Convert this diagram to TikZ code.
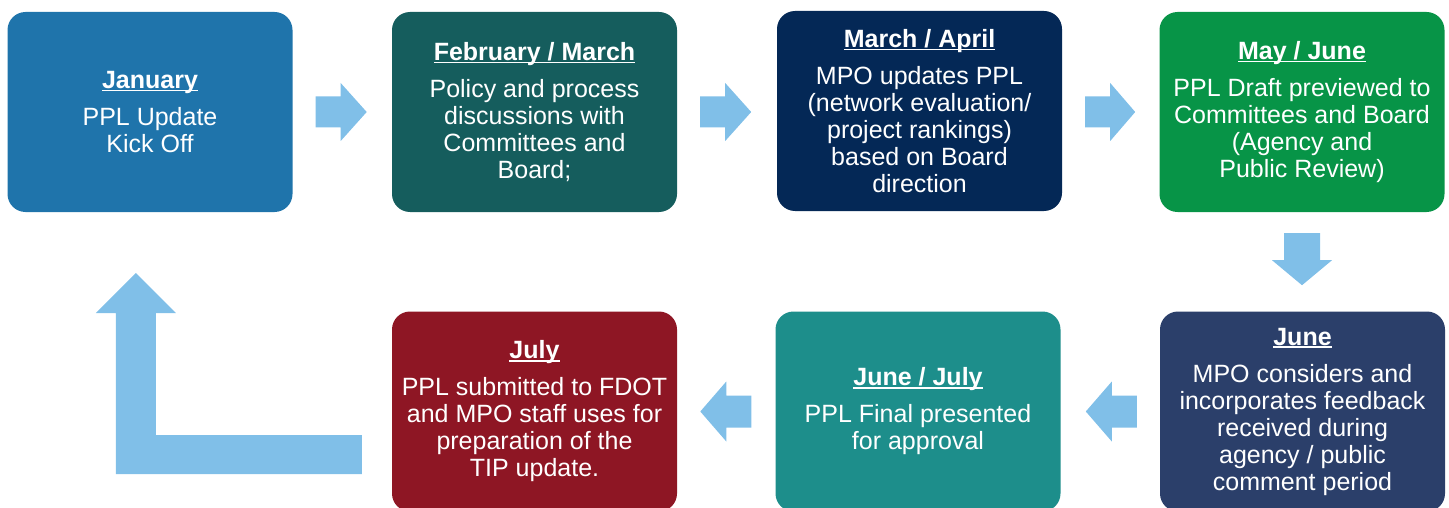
\documentclass[tikz,border=0pt]{standalone}
\usepackage{fontspec}
\setmainfont{Liberation Sans}
\usetikzlibrary{calc}
\definecolor{cJan}{RGB}{31,116,171}
\definecolor{cFeb}{RGB}{21,93,93}
\definecolor{cMar}{RGB}{4,40,86}
\definecolor{cMay}{RGB}{7,148,71}
\definecolor{cJun}{RGB}{43,63,106}
\definecolor{cJJ}{RGB}{29,142,139}
\definecolor{cJul}{RGB}{142,22,36}
\definecolor{arr}{RGB}{128,191,232}
\newcommand\mytitle[1]{\setbox0\hbox{\bfseries #1}\rlap{\rule[-2.6pt]{\wd0}{1.2pt}}\box0}
\begin{document}
\begin{tikzpicture}[x=1pt,y=-1pt,
  stage/.style={rounded corners=18pt, minimum width=285pt, minimum height=200pt,
    inner sep=0pt, align=center, text=white, font=\fontsize{25}{27}\selectfont},
  blockarrow/.style={fill=arr}]
\useasboundingbox (0,0) rectangle (1449,508);
\clip (0,0) rectangle (1449,508);
\node[stage, fill=cJan] (jan) at (150,112)
  {\mytitle{January}\\[10pt]PPL Update\\Kick Off};
\node[stage, fill=cFeb] (feb) at (534.5,112)
  {\mytitle{February / March}\\[10pt]Policy and process\\discussions with\\Committees and\\Board;};
\node[stage, fill=cMar] (mar) at (919.5,111)
  {\mytitle{March / April}\\[10pt]MPO updates PPL\\(network evaluation/\\project rankings)\\based on Board\\direction};
\node[stage, fill=cMay] (may) at (1302,112)
  {\mytitle{May / June}\\[10pt]PPL Draft previewed to\\Committees and Board\\(Agency and\\Public Review)};
\node[stage, fill=cJun] (jun) at (1302.5,411.5)
  {\mytitle{June}\\[10pt]MPO considers and\\incorporates feedback\\received during\\agency / public\\comment period};
\node[stage, fill=cJJ] (jj) at (918,411.5)
  {\mytitle{June / July}\\[10pt]PPL Final presented\\for approval};
\node[stage, fill=cJul] (jul) at (534.5,411.5)
  {\mytitle{July}\\[10pt]PPL submitted to FDOT\\and MPO staff uses for\\preparation of the\\TIP update.};
% right arrows
\fill[blockarrow] ($(jan.east)+(23,-15.5)$) -- ++(25,0) -- ++(0,-13.5) -- ++(26,29) -- ++(-26,29) -- ++(0,-13.5) -- ++(-25,0) -- cycle;
\fill[blockarrow] ($(feb.east)+(23,-15.5)$) -- ++(25,0) -- ++(0,-13.5) -- ++(26,29) -- ++(-26,29) -- ++(0,-13.5) -- ++(-25,0) -- cycle;
\fill[blockarrow] ($(mar.east)+(23,-14.5)$) -- ++(25,0) -- ++(0,-13.5) -- ++(25,29) -- ++(-25,29) -- ++(0,-13.5) -- ++(-25,0) -- cycle;
% down arrow
\fill[blockarrow] ($(may.south)+(-18,21)$) -- ++(36,0) -- ++(0,27) -- ++(12,0) -- ++(-30,25) -- ++(-30,-25) -- ++(12,0) -- cycle;
% left arrows
\fill[blockarrow] ($(jun.west)+(-23,-16)$) -- ++(-25,0) -- ++(0,-14) -- ++(-26,30) -- ++(26,30) -- ++(0,-14) -- ++(25,0) -- cycle;
\fill[blockarrow] ($(jj.west)+(-24,-16)$) -- ++(-25,0) -- ++(0,-14) -- ++(-26,30) -- ++(26,30) -- ++(0,-14) -- ++(25,0) -- cycle;
% return arrow
\fill[blockarrow] ($(jul.west)+(-30,23.5)$) -- ++(0,39) -- ++(-246,0) -- ++(0,-161) -- ++(-20,0) -- ++(40,-40) -- ++(40,40) -- ++(-20,0) -- ++(0,122) -- cycle;
\end{tikzpicture}
\end{document}
